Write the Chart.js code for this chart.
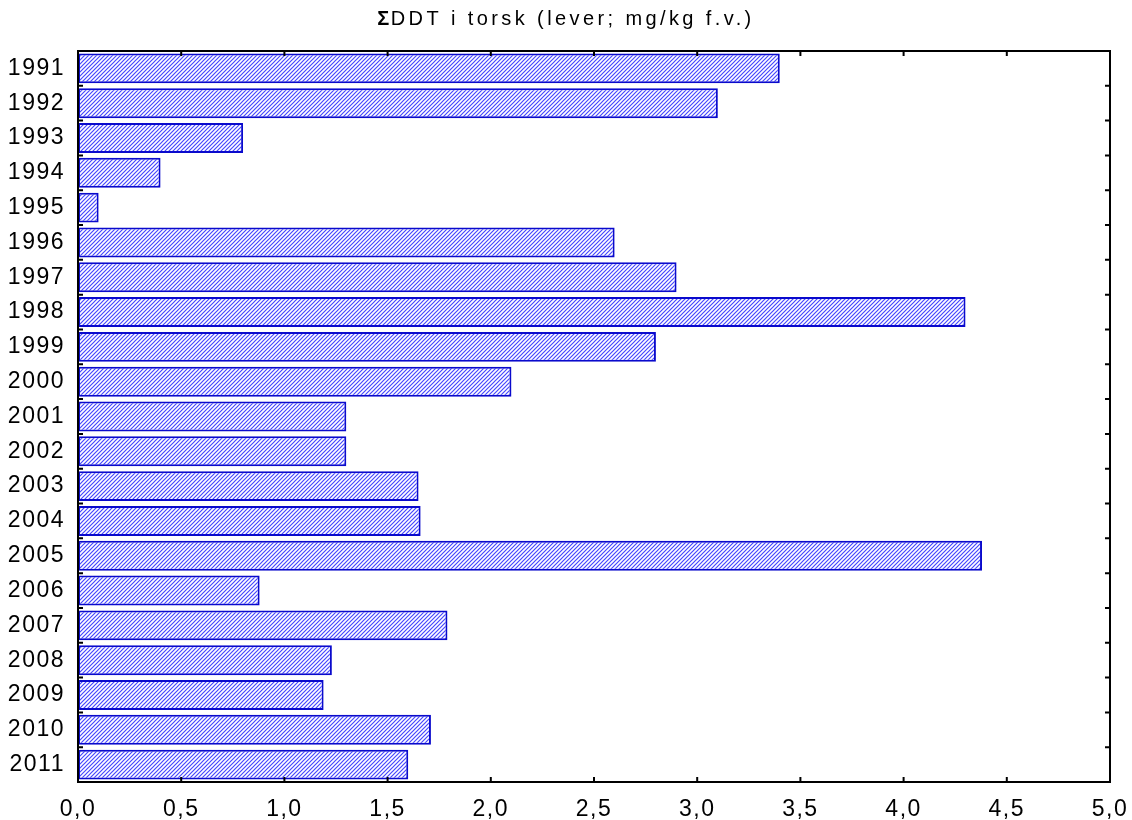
<!DOCTYPE html>
<html>
<head>
<meta charset="utf-8">
<script src="https://cdn.jsdelivr.net/npm/chart.js@4"></script>
<style>
  html, body { margin: 0; padding: 0; background: #fff; }
  #wrap { width: 1132px; height: 820px; }
</style>
</head>
<body>
<div id="wrap"><canvas id="chart" width="1132" height="820"></canvas></div>
<script>
const years = ["1991", "1992", "1993", "1994", "1995", "1996", "1997", "1998", "1999", "2000",
  "2001", "2002", "2003", "2004", "2005", "2006", "2007", "2008", "2009", "2010", "2011"];
const ddt = [3.40, 3.10, 0.80, 0.40, 0.10, 2.60, 2.90, 4.30, 2.80, 2.10,
  1.30, 1.30, 1.65, 1.66, 4.38, 0.88, 1.79, 1.23, 1.19, 1.71, 1.60];
const xTicks = [0, 0.5, 1, 1.5, 2, 2.5, 3, 3.5, 4, 4.5, 5];
const titleSigma = "\u03A3";
const titleRest = "DDT i torsk (lever; mg/kg f.v.)";

// hatch fill like the original
function hatch() {
  const c = document.createElement("canvas");
  c.width = 4; c.height = 4;
  const g = c.getContext("2d");
  g.fillStyle = "#ffffff";
  g.fillRect(0, 0, 4, 4);
  g.strokeStyle = "#4646ff";
  g.lineWidth = 1.2;
  g.beginPath();
  g.moveTo(-1, 5); g.lineTo(5, -1);
  g.moveTo(-1, 1); g.lineTo(1, -1);
  g.moveTo(3, 5); g.lineTo(5, 3);
  g.stroke();
  return g.createPattern(c, "repeat");
}

// slightly wider letter spacing for the tick labels
const spacing = {
  id: "spacing",
  beforeDraw(chart) { chart.ctx.letterSpacing = "1.5px"; }
};

// title, frame and inward tick marks
const frame = {
  id: "frame",
  afterDraw(chart) {
    const { ctx, chartArea: a, scales } = chart;
    ctx.save();
    ctx.fillStyle = "#000";
    ctx.textBaseline = "alphabetic";
    ctx.textAlign = "left";
    ctx.letterSpacing = "3.4px";
    ctx.font = "bold 20px 'Liberation Sans', Arial";
    const w1 = ctx.measureText(titleSigma).width;
    ctx.font = "20px 'Liberation Sans', Arial";
    const w2 = ctx.measureText(titleRest).width;
    const x0 = 567 - (w1 + w2) / 2;
    ctx.font = "bold 20px 'Liberation Sans', Arial";
    ctx.fillText(titleSigma, x0, 25);
    ctx.font = "20px 'Liberation Sans', Arial";
    ctx.fillText(titleRest, x0 + w1 - 2, 25);

    ctx.strokeStyle = "#000";
    ctx.lineWidth = 2;
    ctx.strokeRect(a.left, a.top, a.right - a.left, a.bottom - a.top);
    ctx.beginPath();
    xTicks.forEach(v => {
      const x = scales.x.getPixelForValue(v);
      ctx.moveTo(x, a.bottom); ctx.lineTo(x, a.bottom - 5);
      ctx.moveTo(x, a.top); ctx.lineTo(x, a.top + 5);
    });
    for (let i = 0; i < years.length - 1; i++) {
      const y = (scales.y.getPixelForValue(i) + scales.y.getPixelForValue(i + 1)) / 2;
      ctx.moveTo(a.left, y); ctx.lineTo(a.left + 5, y);
      ctx.moveTo(a.right, y); ctx.lineTo(a.right - 5, y);
    }
    ctx.stroke();
    ctx.restore();
  }
};

new Chart(document.getElementById("chart"), {
  type: "bar",
  data: {
    labels: years,
    datasets: [{
      data: ddt,
      backgroundColor: hatch(),
      borderColor: "#0a0acc",
      borderWidth: 2,
      borderSkipped: false,
      barPercentage: 0.86,
      categoryPercentage: 1
    }]
  },
  options: {
    indexAxis: "y",
    responsive: false,
    animation: false,
    layout: { padding: { left: 0, right: 22, top: 51, bottom: 0 } },
    plugins: {
      legend: { display: false },
      tooltip: { enabled: false },
      title: { display: false }
    },
    scales: {
      x: {
        min: 0, max: 5,
        afterBuildTicks: s => { s.ticks = xTicks.map(v => ({ value: v })); },
        afterFit: s => { s.height = 38; },
        grid: { display: false },
        border: { display: false },
        ticks: {
          color: "#000",
          padding: 6,
          maxRotation: 0,
          font: { family: "Liberation Sans, Arial", size: 23 },
          callback: v => v.toFixed(1).replace(".", ",")
        }
      },
      y: {
        afterFit: s => { s.width = 78; },
        grid: { display: false },
        border: { display: false },
        ticks: {
          color: "#000",
          padding: 5,
          font: { family: "Liberation Sans, Arial", size: 23 }
        }
      }
    }
  },
  plugins: [spacing, frame]
});
</script>
</body>
</html>
